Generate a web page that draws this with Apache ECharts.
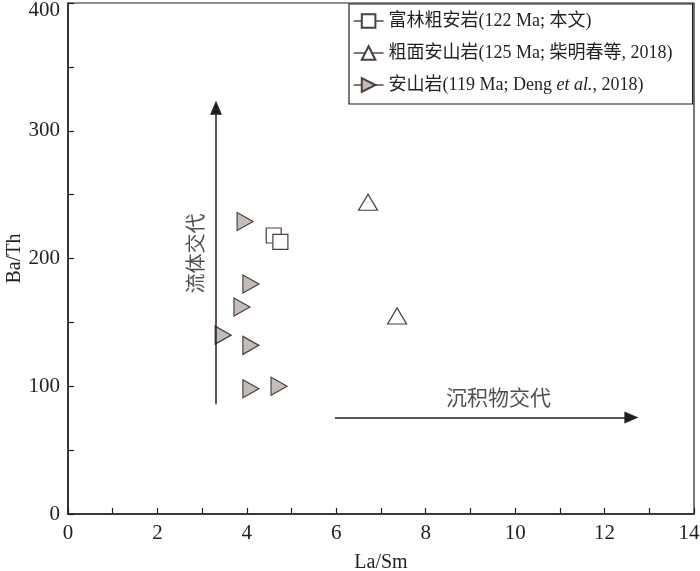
<!DOCTYPE html>
<html><head><meta charset="utf-8">
<script src="https://cdn.jsdelivr.net/npm/echarts@6/dist/echarts.min.js"></script>
<style>html,body{margin:0;padding:0;background:#fff}#c{width:700px;height:571px}</style>
</head><body><div id="c"></div>
<script>
// Data
const names = ['富林粗安岩(122 Ma; 本文)', '粗面安山岩(125 Ma; 柴明春等, 2018)', '安山岩(119 Ma; Deng et al., 2018)'];
const fulinLaSm = [4.6, 4.75];
const fulinBaTh = [218, 213];
const cmasLaSm = [6.71, 7.36];
const cmasBaTh = [244, 155];
const asLaSm = [3.96, 4.09, 3.89, 3.47, 4.09, 4.09, 4.72];
const asBaTh = [229, 180, 162, 140, 132, 98, 100];
const fluidArrow = [[3.31, 86], [3.31, 318]];
const sedArrow = [[5.97, 75.6], [12.6, 75.6]];
const fluidText = {text: '流体交代', pos: [2.9, 204]};
const sedText = {text: '沉积物交代', pos: [9.63, 90]};
const xTicks = {min: 0, max: 14, interval: 2};
const yTicks = {min: 0, max: 400, interval: 100};

const zip = (a, b) => a.map((v, i) => [v, b[i]]);
const FONT = "'Liberation Serif', 'Noto Sans CJK SC', serif";
const INK = '#231f20';
const rightTri = 'path://M0,0 L10,5 L0,10 Z';

const chart = echarts.init(document.getElementById('c'), null, {renderer: 'canvas'});
chart.setOption({
  animation: false,
  textStyle: {fontFamily: FONT, color: INK},
  grid: {left: 68, right: 6, top: 3, bottom: 57, show: true, borderColor: INK, borderWidth: 1.2,
         backgroundColor: 'transparent', containLabel: false, outerBoundsMode: 'none'},
  legend: {
    orient: 'vertical', left: 349, top: 4, padding: [8, 20, 10, 4], itemGap: 14,
    borderColor: INK, borderWidth: 1.2, backgroundColor: '#fff',
    itemWidth: 30, itemHeight: 17,
    lineStyle: {width: 1.2, color: INK, opacity: 1},
    data: names,
    textStyle: {fontFamily: FONT, fontSize: 18, color: INK, rich: {i: {fontStyle: 'italic', fontFamily: FONT, fontSize: 18, color: INK}}},
    formatter: n => n.replace('et al.', '{i|et al.}')
  },
  xAxis: {
    type: 'value', min: xTicks.min, max: xTicks.max, interval: xTicks.interval,
    name: 'La/Sm', nameLocation: 'middle', nameGap: 39, nameMoveOverlap: false,
    nameTextStyle: {fontFamily: FONT, fontSize: 20, color: INK},
    axisLine: {lineStyle: {color: INK, width: 1.5}},
    axisTick: {inside: true, length: 6, lineStyle: {color: INK, width: 1.2}},
    minorTick: {show: true, splitNumber: 2, length: 6, lineStyle: {color: INK, width: 1.2}},
    splitLine: {show: false},
    axisLabel: {
      fontFamily: FONT, fontSize: 21, color: INK, margin: 9,
      formatter: v => v === xTicks.max ? '{m|' + v + '}' : String(v),
      rich: {m: {fontFamily: FONT, fontSize: 21, color: INK, padding: [0, 10, 0, 0]}}
    }
  },
  yAxis: {
    type: 'value', min: yTicks.min, max: yTicks.max, interval: yTicks.interval,
    name: 'Ba/Th', nameLocation: 'middle', nameGap: 43, nameMoveOverlap: false,
    nameTextStyle: {fontFamily: FONT, fontSize: 20, color: INK},
    axisLine: {lineStyle: {color: INK, width: 1.5}},
    axisTick: {inside: true, length: 6, lineStyle: {color: INK, width: 1.2}},
    minorTick: {show: true, splitNumber: 2, length: 6, lineStyle: {color: INK, width: 1.2}},
    splitLine: {show: false},
    axisLabel: {
      fontFamily: FONT, fontSize: 21, color: INK, margin: 8,
      formatter: v => v === yTicks.max ? '{m|' + v + '}' : String(v),
      rich: {m: {fontFamily: FONT, fontSize: 21, color: INK, padding: [14, 0, 0, 0]}}
    }
  },
  series: [
    {
      name: names[0], type: 'line', data: zip(fulinLaSm, fulinBaTh),
      symbol: 'rect', symbolSize: 15, showSymbol: true,
      lineStyle: {width: 0, opacity: 0},
      itemStyle: {color: '#fff', borderColor: '#4a3f3b', borderWidth: 1.2}, z: 3
    },
    {
      name: names[1], type: 'line', data: zip(cmasLaSm, cmasBaTh),
      symbol: 'triangle', symbolSize: [19, 16],
      lineStyle: {width: 0, opacity: 0},
      itemStyle: {color: '#fff', borderColor: '#4a3f3b', borderWidth: 1.2}, z: 3
    },
    {
      name: names[2], type: 'line', data: zip(asLaSm, asBaTh),
      symbol: rightTri, symbolSize: [16, 18],
      lineStyle: {width: 0, opacity: 0},
      itemStyle: {color: '#c4bcb9', borderColor: '#4a3f3b', borderWidth: 1.2}, z: 4
    },
    {
      name: 'arrows', type: 'scatter', data: [], silent: true,
      markLine: {
        silent: true, symbol: ['none', 'triangle'], symbolSize: [12, 14], precision: 4,
        label: {show: false},
        lineStyle: {color: INK, width: 1.5, type: 'solid'},
        data: [
          [{coord: fluidArrow[0]}, {coord: fluidArrow[1]}],
          [{coord: sedArrow[0]}, {coord: sedArrow[1]}]
        ]
      }
    },
    {
      name: 'notes', type: 'scatter', silent: true, symbolSize: 0,
      data: [
        {value: fluidText.pos, label: {show: true, formatter: fluidText.text, rotate: 90, fontSize: 20, fontFamily: FONT, color: INK, position: 'inside'}},
        {value: sedText.pos, label: {show: true, formatter: sedText.text, fontSize: 21, fontFamily: FONT, color: INK, position: 'inside'}}
      ]
    }
  ]
});
</script></body></html>
